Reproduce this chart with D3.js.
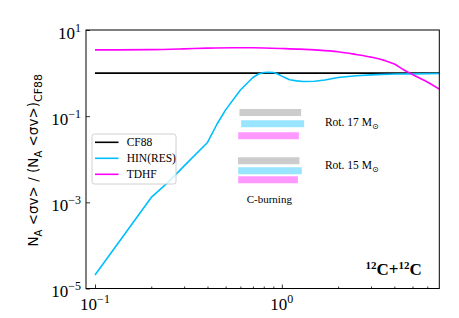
<!DOCTYPE html>
<html>
<head>
<meta charset="utf-8">
<script src="https://cdn.jsdelivr.net/npm/d3@7"></script>
<style>
body { margin: 0; background: #fff; }
text { fill: #000; }
</style>
</head>
<body>
<svg></svg>
<script>
var width = 459
var height = 318
var plotLeft = 86, plotTop = 30, plotRight = 439.3, plotBottom = 288.5

// temperature T9 (GK) and rate ratio to CF88
var tempCF88 = [0.1, 7]
var rateCF88 = [1, 1]

var tempHIN = [0.1, 0.2, 0.25, 0.3, 0.4, 0.45, 0.5, 0.6, 0.65, 0.7, 0.75, 0.8, 0.85, 0.9, 0.95, 1.0, 1.05, 1.1, 1.2, 1.3, 1.5, 1.7, 2.0, 2.5, 3.0, 4.0, 5.0, 7.0]
var rateHIN = [2.05e-5, 1.3e-3, 3.1e-3, 7.0e-3, 0.0245, 0.0658, 0.14, 0.405, 0.573, 0.79, 0.95, 1.03, 1.04, 1.03, 0.95, 0.85, 0.77, 0.70, 0.66, 0.64, 0.645, 0.69, 0.79, 0.87, 0.91, 0.95, 0.96, 0.98]

var tempTDHF = [0.1, 0.2, 0.3, 0.4, 0.55, 0.7, 1.0, 1.25, 1.5, 2.0, 2.5, 3.0, 3.5, 4.0, 4.5, 5.0, 6.0, 7.0]
var rateTDHF = [3.45, 3.5, 3.65, 3.8, 3.88, 3.86, 3.72, 3.6, 3.45, 3.13, 2.7, 2.35, 2.0, 1.62, 1.18, 0.93, 0.62, 0.42]

var seriesNames = ["CF88", "HIN(RES)", "TDHF"]
var seriesColors = ["#000000", "#00bfff", "#ff00ff"]
var seriesCurves = [d3.curveLinear, d3.curveLinear, d3.curveMonotoneX]
var barColors = ["#cccccc", "#99e5ff", "#ff99ff"]

// C-burning temperature ranges: model index, start T9, end T9, level
var barModel = [0, 1, 2, 0, 1, 2]
var barStart = [0.593, 0.606, 0.584, 0.582, 0.584, 0.584]
var barEnd = [1.268, 1.316, 1.233, 1.242, 1.279, 1.219]
var barLevel = [0.1216, 0.0668, 0.0352, 0.0092, 0.00542, 0.00335]

var starLabels = ["Rot. 17 M", "Rot. 15 M"]
var starLabelTemp = [1.70, 1.70]
var starLabelLevel = [0.0736, 0.00735]

var yTicks = [1e1, 1e-1, 1e-3, 1e-5]
var yTickExp = ["1", "\u22121", "\u22123", "\u22125"]
var xTicks = [0.1, 1]
var xTickExp = ["\u22121", "0"]
var xMinorTicks = [0.2, 0.3, 0.4, 0.5, 0.6, 0.7, 0.8, 0.9, 2, 3, 4, 5, 6]

var x = d3.scaleLog().domain([0.0895, 6.96]).range([plotLeft, plotRight])
var y = d3.scaleLog().domain([1e-5, 1e1]).range([plotBottom, plotTop])

var svg = d3.select("svg")
  .attr("width", width)
  .attr("height", height)

var serif = "'Liberation Serif', 'Times New Roman', serif"

// ticks (pointing inward)
svg.append("g")
  .attr("transform", "translate(" + plotLeft + ",0)")
  .call(d3.axisLeft(y).tickValues(yTicks).tickSize(-4).tickFormat(""))
  .call(g => g.select(".domain").remove())

svg.append("g")
  .attr("transform", "translate(0," + plotBottom + ")")
  .call(d3.axisBottom(x).tickValues(xTicks).tickSize(-4).tickFormat(""))
  .call(g => g.select(".domain").remove())

svg.append("g")
  .attr("transform", "translate(0," + plotBottom + ")")
  .call(d3.axisBottom(x).tickValues(xMinorTicks).tickSize(-2).tickFormat(""))
  .call(g => g.select(".domain").remove())

svg.selectAll(".tick line").attr("stroke", "#000").attr("stroke-width", 0.8)

// tick labels 10^n
yTicks.forEach(function (v, i) {
  var t = svg.append("text")
    .attr("x", 81)
    .attr("y", y(v) + 8.5)
    .attr("text-anchor", "end")
    .style("font-family", serif)
    .style("font-size", "17px")
  t.append("tspan").text("10")
  t.append("tspan").attr("dy", -7).style("font-size", "12px").text(yTickExp[i])
})

xTicks.forEach(function (v, i) {
  var t = svg.append("text")
    .attr("x", x(v))
    .attr("y", plotBottom + 21)
    .attr("text-anchor", "middle")
    .style("font-family", serif)
    .style("font-size", "17px")
  t.append("tspan").text("10")
  t.append("tspan").attr("dy", -7).style("font-size", "12px").text(xTickExp[i])
})

// y axis title
var yt = svg.append("text")
  .attr("transform", "translate(38," + ((plotTop + plotBottom) / 2 + 1) + ") rotate(-90)")
  .attr("text-anchor", "middle")
  .style("font-family", "'DejaVu Sans', sans-serif")
  .style("font-size", "13.5px")
yt.append("tspan").text("N")
yt.append("tspan").attr("dy", 3.5).style("font-size", "10px").text("A")
yt.append("tspan").attr("dy", -3.5).text(" <\u03c3v> / (N")
yt.append("tspan").attr("dy", 3.5).style("font-size", "10px").text("A")
yt.append("tspan").attr("dy", -3.5).text(" <\u03c3v>)")
yt.append("tspan").attr("dy", 3.5).style("font-size", "11px").text("CF88")

// C-burning bars
svg.append("g")
  .selectAll("line")
  .data(barModel)
  .enter()
    .append("line")
    .attr("x1", (d, i) => x(barStart[i]))
    .attr("x2", (d, i) => x(barEnd[i]))
    .attr("y1", (d, i) => y(barLevel[i]))
    .attr("y2", (d, i) => y(barLevel[i]))
    .attr("stroke", d => barColors[d])
    .attr("stroke-width", 7)

starLabels.forEach(function (s, i) {
  var t = svg.append("text")
    .attr("x", x(starLabelTemp[i]))
    .attr("y", y(starLabelLevel[i]))
    .attr("dy", "0.35em")
    .style("font-family", serif)
    .style("font-size", "11.5px")
  t.append("tspan").text(s)
  t.append("tspan").attr("dy", 3).style("font-size", "8px").style("font-family", "'DejaVu Sans', sans-serif").text("\u2299")
})

svg.append("text")
  .attr("x", x(0.857))
  .attr("y", y(1.19e-3))
  .attr("dy", "0.35em")
  .attr("text-anchor", "middle")
  .style("font-family", serif)
  .style("font-size", "11px")
  .text("C-burning")

// curves
var curveData = [
  d3.zip(tempCF88, rateCF88),
  d3.zip(tempHIN, rateHIN),
  d3.zip(tempTDHF, rateTDHF)
]

svg.append("defs").append("clipPath").attr("id", "clip")
  .append("rect")
  .attr("x", plotLeft).attr("y", plotTop)
  .attr("width", plotRight - plotLeft).attr("height", plotBottom - plotTop)

svg.append("g")
  .attr("clip-path", "url(#clip)")
  .selectAll("path")
  .data(curveData)
  .enter()
    .append("path")
    .attr("d", (d, i) => d3.line().x(p => x(p[0])).y(p => y(p[1])).curve(seriesCurves[i])(d))
    .attr("fill", "none")
    .attr("stroke", (d, i) => seriesColors[i])
    .attr("stroke-width", 1.6)
    .attr("stroke-linejoin", "round")

// reaction label
var rl = svg.append("text")
  .attr("x", x(5.6))
  .attr("y", y(2.05e-5))
  .attr("text-anchor", "end")
  .style("font-family", serif)
  .style("font-size", "17px")
  .style("font-weight", "bold")
rl.append("tspan").attr("dy", -6).style("font-size", "11px").text("12")
rl.append("tspan").attr("dy", 6).text("C+")
rl.append("tspan").attr("dy", -6).style("font-size", "11px").text("12")
rl.append("tspan").attr("dy", 6).text("C")

// legend
var legend = svg.append("g").attr("transform", "translate(92,134)")
legend.append("rect")
  .attr("width", 84).attr("height", 50)
  .attr("rx", 2.5)
  .attr("fill", "#fff").attr("fill-opacity", 0.8)
  .attr("stroke", "#d0d0d0").attr("stroke-width", 1)

var legendItem = legend.selectAll(".item")
  .data(seriesNames)
  .enter()
    .append("g")
    .attr("transform", (d, i) => "translate(0," + (8.3 + i * 16) + ")")

legendItem.append("line")
  .attr("x1", 3).attr("x2", 26.5)
  .attr("stroke", (d, i) => seriesColors[i])
  .attr("stroke-width", 1.6)

legendItem.append("text")
  .attr("x", 34.7)
  .attr("dy", "0.35em")
  .style("font-family", serif)
  .style("font-size", "11.5px")
  .text(d => d)

// frame
svg.append("rect")
  .attr("x", plotLeft).attr("y", plotTop)
  .attr("width", plotRight - plotLeft).attr("height", plotBottom - plotTop)
  .attr("fill", "none")
  .attr("stroke", "#000")
  .attr("stroke-width", 1)
</script>
</body>
</html>
